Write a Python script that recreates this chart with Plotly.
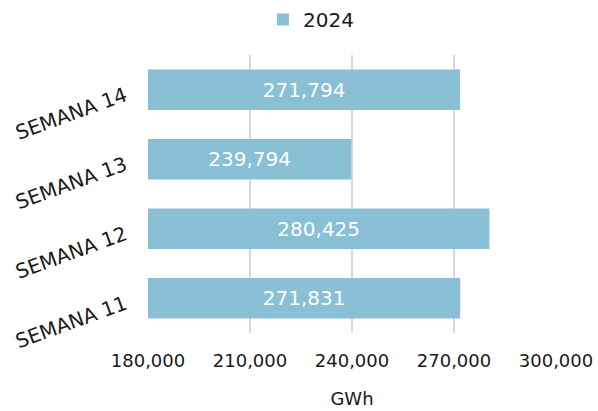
import plotly.graph_objects as go

categories = ["SEMANA 11", "SEMANA 12", "SEMANA 13", "SEMANA 14"]
values_2024 = [271831, 280425, 239794, 271794]
series_name = "2024"
x_ticks = [180000, 210000, 240000, 270000, 300000]
AXIS_MIN, AXIS_MAX = 180000, 300000

FONT = "DejaVu Sans"
fig = go.Figure()
fig.add_trace(go.Bar(
    y=categories, x=[v - AXIS_MIN for v in values_2024], base=AXIS_MIN,
    orientation="h", name=series_name,
    marker=dict(color="#89C0D5", line=dict(width=0)),
    text=[f"{v:,}" for v in values_2024], textposition="inside",
    insidetextanchor="middle",
    textfont=dict(color="white", size=20, family=FONT),
    hovertext=[f"{v:,}" for v in values_2024], hoverinfo="text+y",
))
fig.update_layout(
    width=598, height=411,
    margin=dict(l=148, r=42, t=55, b=78),
    paper_bgcolor="white", plot_bgcolor="white",
    font=dict(family=FONT, color="#1a1a1a", size=18),
    bargap=0.42,
    showlegend=True,
    legend=dict(orientation="h", x=0.52, xref="container", xanchor="center",
                y=1.0, yref="container", yanchor="top",
                font=dict(size=20), itemwidth=30),
    xaxis=dict(range=[AXIS_MIN, AXIS_MAX], tickvals=x_ticks, tickformat=",",
               showgrid=True, gridcolor="#d9d9d9", gridwidth=2, zeroline=False,
               title=dict(text="GWh", font=dict(size=18), standoff=22),
               tickfont=dict(size=18), ticks="", showline=False, ticklabelstandoff=15,
               automargin=False),
    yaxis=dict(tickangle=-20, tickfont=dict(size=20), ticks="", showline=False,
               ticklabelstandoff=22, ticklabelshift=4, automargin=False),
)
fig.write_html("out.html", post_script="document.body.style.margin='0';",
               config={"displayModeBar": False})
